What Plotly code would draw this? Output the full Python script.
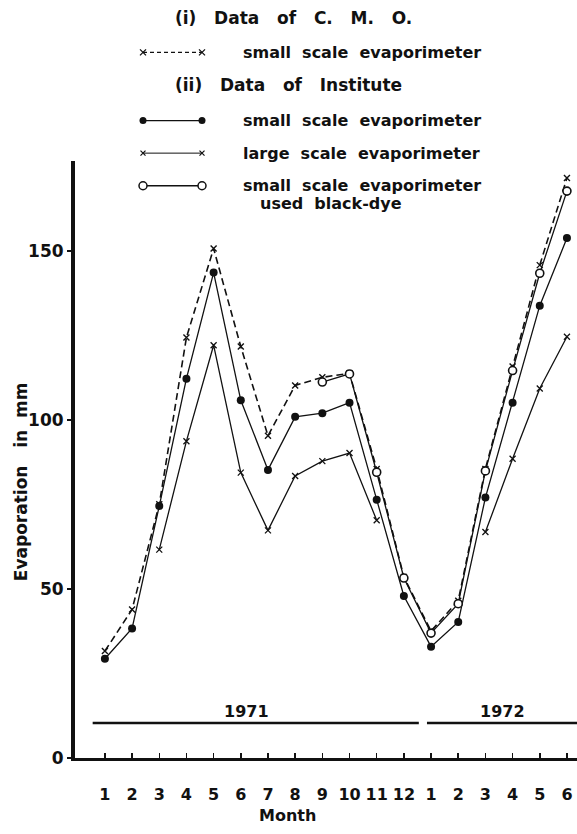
import plotly.graph_objects as go

# ---------------- data ----------------
month_pos = list(range(1, 19))
month_labels = ["1", "2", "3", "4", "5", "6", "7", "8", "9", "10", "11", "12",
                "1", "2", "3", "4", "5", "6"]

cmo_small = [31.6, 43.9, 75.0, 124.4, 150.7, 121.7, 95.3, 110.2, 112.6, 113.8, 85.5, 53.5,
             37.5, 46.5, 85.5, 115.8, 145.8, 171.6]
inst_small = [29.3, 38.3, 74.5, 112.2, 143.6, 105.8, 85.2, 100.9, 102.0, 105.1, 76.4, 47.9,
              32.9, 40.2, 77.0, 105.1, 133.8, 153.8]
inst_large = [None, None, 61.6, 93.7, 122.1, 84.4, 67.3, 83.4, 87.8, 90.2, 70.3, None,
              None, None, 66.8, 88.5, 109.3, 124.6]
inst_blackdye = [None, None, None, None, None, None, None, None, 111.2, 113.6, 84.5, 53.2,
                 36.9, 45.6, 84.9, 114.6, 143.4, 167.7]

year_labels = ["1971", "1972"]
year_bar_start = [0.55, 12.85]
year_bar_end = [12.55, 18.6]
year_bar_level = 10.3
year_label_x = [6.22, 15.64]
year_label_level = 13.8

y_ticks = [0, 50, 100, 150]

# legend content
legend_heads = ["(i)   Data   of   C.   M.   O.", "(ii)   Data   of   Institute"]
legend_texts = ["small  scale  evaporimeter", "small  scale  evaporimeter",
                "large  scale  evaporimeter", "small  scale  evaporimeter"]
legend_sub = "used  black-dye"

# ---------------- style / layout ----------------
W, H = 577, 834
FONT = "DejaVu Sans"
BLACK = "#111111"

fig = go.Figure()

common_line = dict(color=BLACK, width=1.3)

fig.add_trace(go.Scatter(x=month_pos, y=cmo_small, mode="lines+markers",
                         line=dict(color=BLACK, width=1.6, dash="7px,4px"),
                         marker=dict(symbol="x-thin", size=6, line=dict(color=BLACK, width=1.4)),
                         showlegend=False, cliponaxis=False))
fig.add_trace(go.Scatter(x=month_pos, y=inst_large, mode="lines+markers",
                         line=common_line, connectgaps=False,
                         marker=dict(symbol="x-thin", size=6, line=dict(color=BLACK, width=1.3)),
                         showlegend=False, cliponaxis=False))
fig.add_trace(go.Scatter(x=month_pos, y=inst_small, mode="lines+markers",
                         line=common_line,
                         marker=dict(symbol="circle", size=8, color=BLACK),
                         showlegend=False, cliponaxis=False))
fig.add_trace(go.Scatter(x=month_pos, y=inst_blackdye, mode="lines+markers",
                         line=common_line, connectgaps=False,
                         marker=dict(symbol="circle", size=8, color="white",
                                     line=dict(color=BLACK, width=1.6)),
                         showlegend=False, cliponaxis=False))

# year bars
for s, e in zip(year_bar_start, year_bar_end):
    fig.add_trace(go.Scatter(x=[s, e], y=[year_bar_level, year_bar_level], mode="lines",
                             line=dict(color=BLACK, width=2.6), showlegend=False))
for lab, lx in zip(year_labels, year_label_x):
    fig.add_annotation(x=lx, y=year_label_level, text=lab, showarrow=False,
                       font=dict(family=FONT, size=16, color=BLACK, weight="bold"),
                       xref="x", yref="y")

# ---------------- legend (overlay axis in pixel units) ----------------
sample_x0, sample_x1 = 143, 202
text_x = 241
rows_y = [53, 122, 155, 188]
head_y = [18, 86]
head_x = 173
styles = [
    dict(line=dict(color=BLACK, width=1.3, dash="4px,3px"),
         marker=dict(symbol="x-thin", size=6, line=dict(color=BLACK, width=1.3))),
    dict(line=dict(color=BLACK, width=1.3),
         marker=dict(symbol="circle", size=7, color=BLACK)),
    dict(line=dict(color=BLACK, width=1.0),
         marker=dict(symbol="x-thin", size=5, line=dict(color=BLACK, width=1.2))),
    dict(line=dict(color=BLACK, width=1.3),
         marker=dict(symbol="circle", size=8, color="white", line=dict(color=BLACK, width=1.5))),
]
for ry, st, txt in zip(rows_y, styles, legend_texts):
    fig.add_trace(go.Scatter(x=[sample_x0, sample_x1], y=[ry, ry], mode="lines+markers",
                             xaxis="x2", yaxis="y2", showlegend=False, **st))
    fig.add_annotation(x=text_x, y=ry, text=txt, showarrow=False, xanchor="left",
                       yanchor="middle", xref="x2", yref="y2",
                       font=dict(family=FONT, size=16, color=BLACK, weight="bold"))
fig.add_annotation(x=258, y=206, text=legend_sub, showarrow=False, xanchor="left",
                   yanchor="middle", xref="x2", yref="y2",
                   font=dict(family=FONT, size=16, color=BLACK, weight="bold"))
for hy, ht in zip(head_y, legend_heads):
    fig.add_annotation(x=head_x, y=hy, text=ht, showarrow=False, xanchor="left",
                       yanchor="middle", xref="x2", yref="y2",
                       font=dict(family=FONT, size=17, color=BLACK, weight="bold"))

# axis titles as annotations in pixel space
fig.add_annotation(x=21, y=488, text="Evaporation   in  mm", textangle=-90, showarrow=False,
                   xref="x2", yref="y2",
                   font=dict(family=FONT, size=17, color=BLACK, weight="bold"))
fig.add_annotation(x=287, y=825, text="Month", showarrow=False, xref="x2", yref="y2",
                   font=dict(family=FONT, size=16, color=BLACK, weight="bold"))

x_left_px, y_top_px, y_bot_px = 75, 163, 767
fig.update_layout(
    width=W, height=H,
    margin=dict(l=0, r=0, t=0, b=0),
    paper_bgcolor="white", plot_bgcolor="rgba(0,0,0,0)",
    font=dict(family=FONT, color=BLACK),
    hovermode=False,
    xaxis=dict(domain=[x_left_px / W, 1.0], range=[-0.10, 18.37],
               tickvals=month_pos, ticktext=month_labels,
               showline=True, linewidth=3, linecolor=BLACK,
               ticks="inside", ticklen=5, tickwidth=1.5, tickcolor=BLACK,
               ticklabelstandoff=20,
               tickfont=dict(family=FONT, size=16, color=BLACK, weight="bold"),
               showgrid=False, zeroline=False, anchor="y", fixedrange=True),
    yaxis=dict(domain=[(H - y_bot_px) / H, (H - y_top_px) / H], range=[0, 176.6],
               tickvals=y_ticks, ticktext=[str(v) for v in y_ticks],
               showline=True, linewidth=4, linecolor=BLACK,
               ticks="outside", ticklen=4, tickwidth=1.5, tickcolor=BLACK,
               tickfont=dict(family=FONT, size=17, color=BLACK, weight="bold"),
               showgrid=False, zeroline=False, anchor="x", fixedrange=True),
    xaxis2=dict(domain=[0, 1], range=[0, W], visible=False, anchor="y2", fixedrange=True),
    yaxis2=dict(domain=[0, 1], range=[H, 0], visible=False, anchor="x2", fixedrange=True),
)

fig.write_html("out.html", config={"displayModeBar": False, "staticPlot": True},
               post_script="document.body.style.margin='0px';document.body.style.overflow='hidden';")
